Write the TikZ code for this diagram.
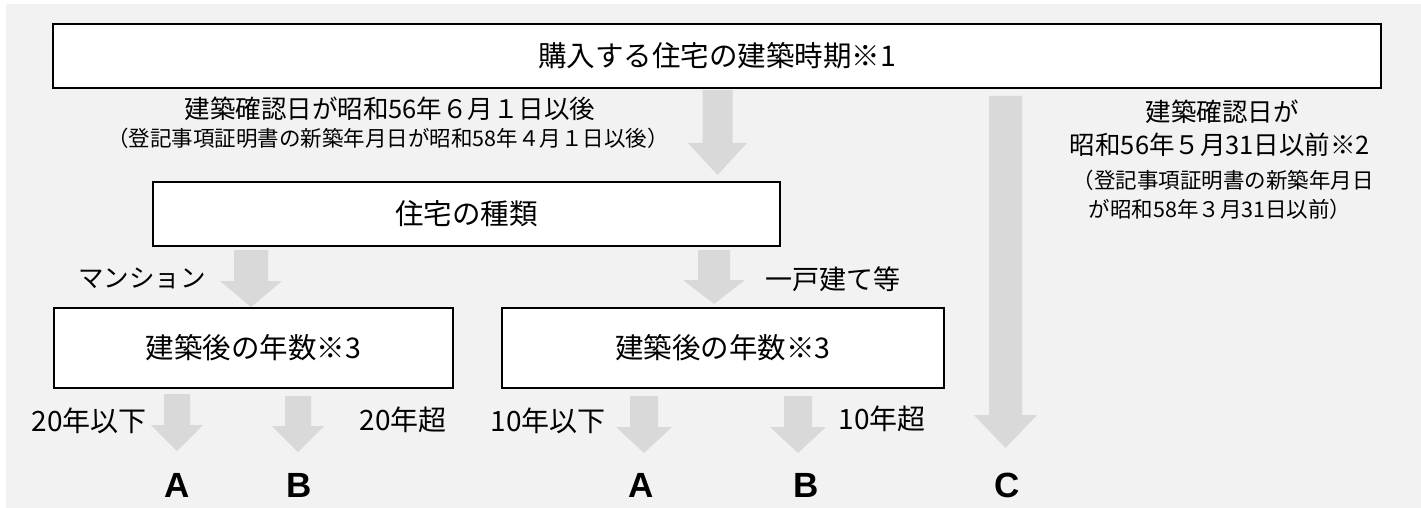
\documentclass[tikz,border=0pt]{standalone}
\usepackage{fontspec}
\setmainfont{Noto Sans CJK JP}
\newfontfamily\abcfont{Liberation Sans}
\usetikzlibrary{calc}
\definecolor{bggray}{HTML}{F2F2F2}
\definecolor{arrgray}{HTML}{D9D9D9}
\newcommand\fsz[1]{\fontsize{#1}{#1}\selectfont}
\newcommand\blockarrow[5]{%
  \fill[arrgray] let \p1=(#1), \p2=(#2) in
    (\x1-#3pt,\y1) -- (\x1-#3pt,\y2+#5pt) -- (\x1-#4pt,\y2+#5pt) -- (\x1,\y2)
    -- (\x1+#4pt,\y2+#5pt) -- (\x1+#3pt,\y2+#5pt) -- (\x1+#3pt,\y1) -- cycle;}
\tikzset{
  box/.style={draw=black, line width=1.8pt, fill=white, inner sep=0pt, font=\fsz{28.5}},
  lbl/.style={inner sep=0pt, font=\fsz{25.5}},
  lblsmall/.style={inner sep=0pt, font=\fsz{21.5}},
  yrs/.style={inner sep=0pt, font=\fsz{28}},
  res/.style={inner sep=0pt, font=\abcfont\bfseries\fsz{35}},
}
\begin{document}
\begin{tikzpicture}[x=1pt,y=-1pt]
\useasboundingbox (0,0) rectangle (1421,508);
\fill[bggray] (6,4) rectangle (1421,508);

% boxes
\node[box, minimum width=1328pt, minimum height=64pt] (top) at (717,56) {購入する住宅の建築時期※1};
\node[box, minimum width=627pt, minimum height=64pt] (kind) at (466.5,214) {住宅の種類};
\node[box, minimum width=399pt, minimum height=80pt] (yrl) at (253.5,348) {建築後の年数※3};
\node[box, minimum width=442pt, minimum height=80pt] (yrr) at (723,348) {建築後の年数※3};

% labels
\node[lbl] (l1a) at (390,109) {建築確認日が昭和56年６月１日以後};
\node[lblsmall] (l1b) at (388,138) {（登記事項証明書の新築年月日が昭和58年４月１日以後）};
\node[lbl] (r1) at (1222,112) {建築確認日が};
\node[lbl] (r2) at (1220,145) {昭和56年５月31日以前※2};
\node[lblsmall] (r3) at (1223,180) {（登記事項証明書の新築年月日};
\node[lblsmall] (r4) at (1220,209) {が昭和58年３月31日以前）};
\node[lbl] (man) at (142,278) {マンション};
\node[lbl, font=\fsz{27}] (ikko) at (833,279) {一戸建て等};
\node[yrs] (y20a) at (89,421) {20年以下};
\node[yrs] (y20b) at (403,420) {20年超};
\node[yrs] (y10a) at (548,421) {10年以下};
\node[yrs] (y10b) at (882,419) {10年超};

% results
\node[res] (A1) at (177,485) {A};
\node[res] (B1) at (299,485) {B};
\node[res] (A2) at (641,485) {A};
\node[res] (B2) at (806,485) {B};
\node[res] (C) at (1007,485) {C};

% arrow coordinates
\coordinate (a1s) at (717.5,90);  \coordinate (a1e) at (717.5,175);
\coordinate (acs) at (1005.5,96); \coordinate (ace) at (1005.5,448);
\coordinate (ams) at (251,250);   \coordinate (ame) at (251,307);
\coordinate (aks) at (714,250);   \coordinate (ake) at (714,304);
\coordinate (b1s) at (177,394);   \coordinate (b1e) at (177,451);
\coordinate (b2s) at (298,396);   \coordinate (b2e) at (298,452);
\coordinate (b3s) at (644,396);   \coordinate (b3e) at (644,453);
\coordinate (b4s) at (798,396);   \coordinate (b4e) at (798,453);

\blockarrow{a1s}{a1e}{15}{29.5}{32}
\blockarrow{acs}{ace}{16.5}{31.5}{33}
\blockarrow{ams}{ame}{17}{31}{26}
\blockarrow{aks}{ake}{16}{31}{24}
\blockarrow{b1s}{b1e}{13}{26}{26}
\blockarrow{b2s}{b2e}{13}{26}{26}
\blockarrow{b3s}{b3e}{14}{28}{26}
\blockarrow{b4s}{b4e}{14}{28}{26}
\end{tikzpicture}
\end{document}
